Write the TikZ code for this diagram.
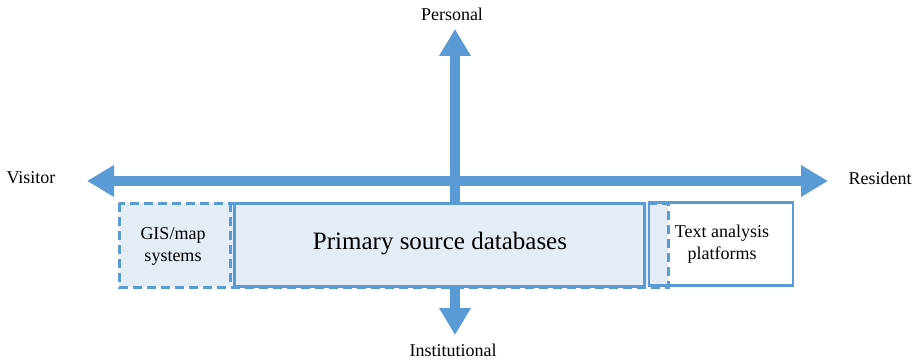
\documentclass[tikz,border=0pt]{standalone}
\usepackage{fontspec}
\setmainfont{Liberation Serif}
\usetikzlibrary{arrows.meta}
\definecolor{axisblue}{HTML}{5B9BD5}
\definecolor{boxfill}{HTML}{E4ECF6}
\tikzset{
  axisline/.style={draw=axisblue, line width=10pt, {Triangle[length=27pt,width=30pt]}-{Triangle[length=27pt,width=30pt]}},
  lbl/.style={font=\fontsize{18}{21}\selectfont, inner sep=0pt},
  dashbox/.style={draw=axisblue, line width=3pt, dash pattern=on 9pt off 5pt, fill=boxfill},
  solidbox/.style={draw=axisblue, line width=2.5pt, inner sep=0pt},
  boxtext/.style={font=\fontsize{18}{22}\selectfont, align=center, inner sep=0pt}
}
\begin{document}
\begin{tikzpicture}[x=1pt,y=-1pt]
\useasboundingbox (0,0) rectangle (919,361);
% axes
\coordinate (L) at (87,181);
\coordinate (R) at (828,181);
\coordinate (T) at (455,29);
\coordinate (B) at (455,335);
\draw[axisline] (L) -- (R);
\draw[axisline] (B) -- (T);
% boxes
\draw[dashbox] (119,203) rectangle (668,287);
\coordinate (gt) at (230,203);
\coordinate (gb) at (230,287);
\draw[draw=axisblue, line width=3pt, dash pattern=on 9pt off 5pt] (gt) -- (gb);
\node[solidbox, fill=boxfill, minimum width=410pt, minimum height=83pt] (prim) at (439.5,245) {};
\node[solidbox, minimum width=144pt, minimum height=83pt] (txtbox) at (721,244) {};
\node[font=\fontsize{25}{29}\selectfont, inner sep=0pt] (primt) at (440,244) {Primary source databases};
\node[boxtext] (gis) at (173,246) {GIS/map\\systems};
\node[boxtext] (txta) at (722,244) {Text analysis\\platforms};
% labels
\node[lbl] (pers) at (452,14) {Personal};
\node[lbl] (inst) at (453,350) {Institutional};
\node[lbl] (vis) at (31,178) {Visitor};
\node[lbl] (res) at (880,178) {Resident};
\end{tikzpicture}
\end{document}
